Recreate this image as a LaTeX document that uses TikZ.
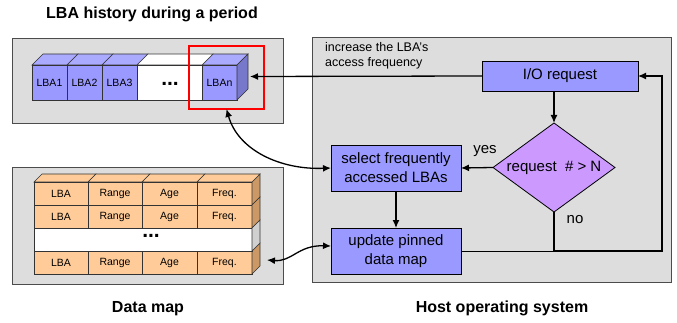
\documentclass[tikz,border=0pt]{standalone}
\usepackage{fontspec}
\setmainfont{Liberation Sans}
\usetikzlibrary{shapes.geometric,arrows.meta,calc}
\definecolor{bgray}{HTML}{DDDDDD}
\definecolor{lblue}{HTML}{9999FF}
\definecolor{ltop}{HTML}{AAAAFF}
\definecolor{lside}{HTML}{7777CC}
\definecolor{lviolet}{HTML}{CC99FF}
\definecolor{peach}{HTML}{FFCC99}
\definecolor{tan}{HTML}{CC9966}
\definecolor{gside}{HTML}{D0D0D0}
\begin{document}
\begin{tikzpicture}[x=1pt,y=-1pt,
  panel/.style={draw=black!70, fill=bgray, line width=0.8pt},
  lbaf/.style={draw=black!80, fill=lblue, minimum width=35pt, minimum height=35pt, inner sep=0pt, outer sep=0pt, line width=0.6pt, font=\fontsize{10.5}{12}\selectfont},
  cell/.style={draw=black!80, fill=peach, minimum height=23pt, inner sep=0pt, outer sep=0pt, line width=0.6pt, font=\fontsize{10.5}{12}\selectfont},
  face/.style={draw=black!80, line width=0.6pt},
  proc/.style={draw=black, fill=lblue, line width=0.8pt, inner sep=0pt, outer sep=0pt, align=center, font=\fontsize{15}{19}\selectfont},
  arr/.style={-{Latex[length=8pt,width=7pt]}, line width=1.3pt},
  darr/.style={{Latex[length=8pt,width=7pt]}-{Latex[length=8pt,width=7pt]}, line width=1.3pt},
  lbl/.style={font=\fontsize{15}{18}\selectfont, inner sep=0pt},
  ttl/.style={font=\fontsize{16}{19}\selectfont\bfseries, inner sep=0pt},
  dots/.style={font=\fontsize{21}{22}\selectfont\bfseries, inner sep=0pt}
]
\useasboundingbox (0,0) rectangle (677,323);

% titles
\node[ttl] (t1) at (152,14) {LBA history during a period};
\node[ttl] (t2) at (148,309) {Data map};
\node[ttl] (t3) at (502,308) {Host operating system};

% panels
\draw[panel] (12,38) rectangle (283,123);
\draw[panel] (12,167) rectangle (283,284);
\draw[panel] (312,37) rectangle (671,282);

% LBA history strip
\node[lbaf, anchor=north west] (l1) at (32,65) {LBA1};
\node[lbaf, anchor=north west] (l2) at (67,65) {LBA2};
\node[lbaf, anchor=north west] (l3) at (102,65) {LBA3};
\node[draw=black!80, fill=white, minimum width=65pt, minimum height=35pt, inner sep=0pt, outer sep=0pt, line width=0.6pt, anchor=north west] (lg) at (137,65) {};
\node[dots] (lgdots) at (170,84) {...};
\node[lbaf, anchor=north west] (ln) at (202,65) {LBAn};
\foreach \n in {l1,l2,l3,ln}
  \draw[face, fill=ltop] (\n.north west) -- ++(11,-11) -- ($(\n.north east)+(11,-11)$) -- (\n.north east) -- cycle;
\draw[face, fill=white] (lg.north west) -- ++(11,-11) -- ($(lg.north east)+(11,-11)$) -- (lg.north east) -- cycle;
\draw[face, fill=lside] (ln.north east) -- ++(11,-11) -- ++(0,35) -- (ln.south east) -- cycle;
\coordinate (lnside) at ($(ln.east)+(13,-6)$);

% red highlight
\node[draw=red, line width=1.5pt, minimum width=75pt, minimum height=63pt, inner sep=0pt, outer sep=0pt, anchor=north west] (redbox) at (189,46) {};

% data map
\foreach \r/\y in {1/182,2/205,4/251}{
  \foreach \c/\x/\w/\t in {1/34/54/LBA,2/88/54/Range,3/142/55/Age,4/197/55/Freq.}{
    \node[cell, minimum width=\w pt, anchor=north west] (d\r\c) at (\x,\y) {\t};
  }
  \draw[face, fill=tan] (d\r4.north east) -- ++(8,-8) -- ++(0,23) -- (d\r4.south east) -- cycle;
}
\foreach \c in {1,2,3,4}
  \draw[face, fill=peach] (d1\c.north west) -- ++(8,-8) -- ($(d1\c.north east)+(8,-8)$) -- (d1\c.north east) -- cycle;
\node[draw=black!80, fill=white, minimum width=218pt, minimum height=23pt, inner sep=0pt, outer sep=0pt, line width=0.6pt, anchor=north west] (d3) at (34,228) {};
\node[dots] (d3dots) at (151,236) {...};
\draw[face, fill=gside] (d3.north east) -- ++(8,-8) -- ++(0,23) -- (d3.south east) -- cycle;
\coordinate (dmend) at (267,260);

% host OS flow
\node[proc, minimum width=156pt, minimum height=30pt] (io) at (560,76) {I/O request};
\node[draw=black, fill=lviolet, line width=0.8pt, diamond, minimum width=122pt, minimum height=89pt, inner sep=0pt, outer sep=0pt] (dia) at (554,167.5) {};
\node[lbl] (dial) at (dia.center) {request\ \ \# > N};
\node[proc, minimum width=130pt, minimum height=46pt] (sel) at (396,168) {select frequently\\accessed LBAs};
\node[proc, minimum width=130pt, minimum height=46pt] (upd) at (396,251) {update pinned\\data map};

\node[lbl] (yes) at (485,151) {yes};
\node[lbl] (no) at (575,220) {no};
\node[font=\fontsize{12.5}{15}\selectfont, inner sep=0pt, align=left, anchor=west] (note) at (325,55.5) {increase the LBA's\\access frequency};

\draw[arr] (io.west) -- (lnside);
\draw[arr] (io.south -| dia.north) -- (dia.north);
\draw[arr] (dia.west) -- (sel.east);
\draw[arr] (sel.south) -- (upd.north);
\coordinate (nocorner) at (dia.south |- upd.east);
\coordinate (rcorner) at (662,251);
\draw[arr] (dia.south) -- (nocorner) -- (rcorner) -- (rcorner |- io.east) -- (io.east);
\draw[line width=0.8pt] (upd.east) -- (nocorner);

\draw[darr] (redbox.south) .. controls (238,150) and (280,170) .. (sel.west);
\draw[darr] (dmend) .. controls (292,262) and (298,245) .. ($(upd.west)+(0,-5)$);
\end{tikzpicture}
\end{document}
